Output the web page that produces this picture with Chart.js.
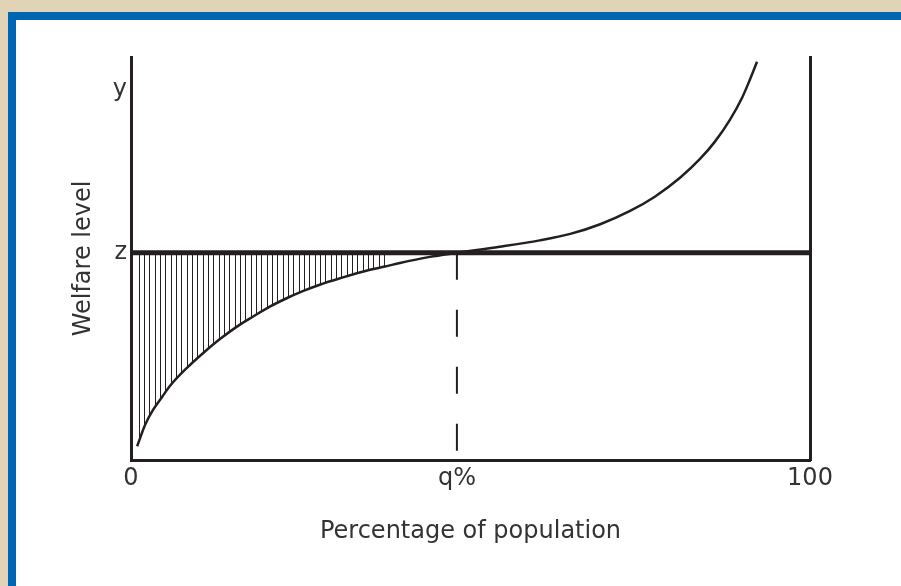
<!DOCTYPE html>
<html lang="en">
<head>
<meta charset="UTF-8">
<title>Welfare level</title>
<script src="https://cdn.jsdelivr.net/npm/chart.js"></script>
<style>
  html, body { margin: 0; padding: 0; }
  body { width: 901px; height: 586px; background: #e1d3b6; position: relative; overflow: hidden; }
  #frame { position: absolute; left: 8px; top: 12px; right: 0; bottom: 0; background: #0066b3; }
  #paper { position: absolute; left: 16px; top: 20px; right: 0; bottom: 0; background: #fff; }
  #myChart { position: absolute; left: 0; top: 0; }
</style>
</head>
<body>
<div id="frame"></div>
<div id="paper"></div>
<canvas id="myChart" width="901" height="586"></canvas>
<script>
// poverty line z, cut-off q%, and the top tick y
const Q = 48;
const Z = 51.4;
const Y = 91.8;

const xTicks = [0, Q, 100];
const xTickLabels = ['0', 'q%', '100'];
const yTicks = [Z, Y];
const yTickLabels = ['z', 'y'];

// welfare level by percentage of population
const curveX = [0.9, 2.1, 3.2, 4.6, 5.7, 8.2, 10.6, 13.1, 15.6, 18.0, 20.5, 23.0, 25.3, 27.8, 30.8, 35.2, 37.4, 39.6, 44.0, 48.0,
                54.3, 60.2, 64.7, 69.1, 73.5, 77.2, 80.9, 83.8, 86.0, 88.2, 90.0, 91.2, 92.2];
const curveY = [3.4, 8.8, 12.3, 15.7, 18.3, 22.8, 26.5, 30.0, 33.1, 35.6, 38.1, 40.2, 41.9, 43.5, 45.1, 47.2, 48.0, 48.9, 50.4, 51.4,
                52.9, 54.5, 56.1, 58.5, 61.8, 65.4, 70.1, 74.7, 79.0, 84.4, 89.9, 94.6, 98.8];

// shaded gap below z runs up to here
const hatchEnd = 38;

const ink = '#231f20';
const textColor = '#333';
const font = { family: 'DejaVu Sans', size: 24 };

const curve = curveX.map((x, i) => ({ x: x, y: curveY[i] }));
const hatch = curve.filter(p => p.x <= hatchEnd);

// vertical hatching pattern, ~5.3px apart
function makeHatch() {
    const c = document.createElement('canvas');
    c.width = 16; c.height = 16;
    const g = c.getContext('2d');
    g.fillStyle = ink;
    g.fillRect(0, 0, 1, 16);
    g.fillRect(5, 0, 1, 16);
    g.fillRect(11, 0, 1, 16);
    return g.createPattern(c, 'repeat');
}
const ctx = document.getElementById('myChart');
const pattern = makeHatch();

new Chart(ctx, {
    type: 'line',
    data: {
        datasets: [{
            label: 'z',
            data: [{ x: 0, y: Z }, { x: 100, y: Z }],
            borderColor: ink,
            borderWidth: 5,
            order: 0
        }, {
            label: 'welfare',
            data: curve,
            borderColor: ink,
            borderWidth: 2.5,
            cubicInterpolationMode: 'monotone',
            order: 1
        }, {
            label: 'q',
            data: [{ x: Q, y: Z }, { x: Q, y: 0 }],
            borderColor: ink,
            borderWidth: 2,
            borderDash: [27, 30],
            order: 2
        }, {
            label: 'gap',
            data: hatch,
            borderWidth: 0,
            borderColor: 'rgba(0,0,0,0)',
            backgroundColor: pattern,
            cubicInterpolationMode: 'monotone',
            fill: { value: Z },
            order: 3
        }]
    },
    options: {
        responsive: false,
        animation: false,
        devicePixelRatio: 1,
        elements: { point: { radius: 0 } },
        layout: { padding: { top: 57, left: 0, right: 0, bottom: 0 } },
        plugins: { legend: { display: false }, tooltip: { enabled: false } },
        scales: {
            x: {
                type: 'linear', position: 'bottom', min: 0, max: 100,
                grid: { display: false, drawTicks: false },
                border: { display: true, width: 3, color: ink },
                afterBuildTicks: s => { s.ticks = xTicks.map(v => ({ value: v })); },
                afterFit: s => { s.height = 586 - 460; },
                ticks: {
                    autoSkip: false, maxRotation: 0, padding: 4, font: font, color: textColor,
                    callback: v => xTickLabels[xTicks.indexOf(v)]
                },
                title: { display: true, text: 'Percentage of population', font: font, color: textColor, padding: { top: 0, bottom: 40 } }
            },
            y: {
                type: 'linear', position: 'left', min: 0, max: 100,
                grid: { display: false, drawTicks: false },
                border: { display: true, width: 3, color: ink },
                afterBuildTicks: s => { s.ticks = yTicks.map(v => ({ value: v })); },
                afterFit: s => { s.width = 131; },
                ticks: {
                    autoSkip: false, padding: 4, font: font, color: textColor,
                    callback: v => yTickLabels[yTicks.indexOf(v)]
                },
                title: { display: true, text: 'Welfare level', font: font, color: textColor, padding: { top: 69, bottom: 0 } }
            },
            y2: {
                type: 'linear', position: 'right', min: 0, max: 100, display: true,
                grid: { display: false, drawTicks: false },
                border: { display: true, width: 3, color: ink },
                ticks: { display: false },
                afterFit: s => { s.width = 901 - 810; }
            }
        }
    }
});
</script>
</body>
</html>
